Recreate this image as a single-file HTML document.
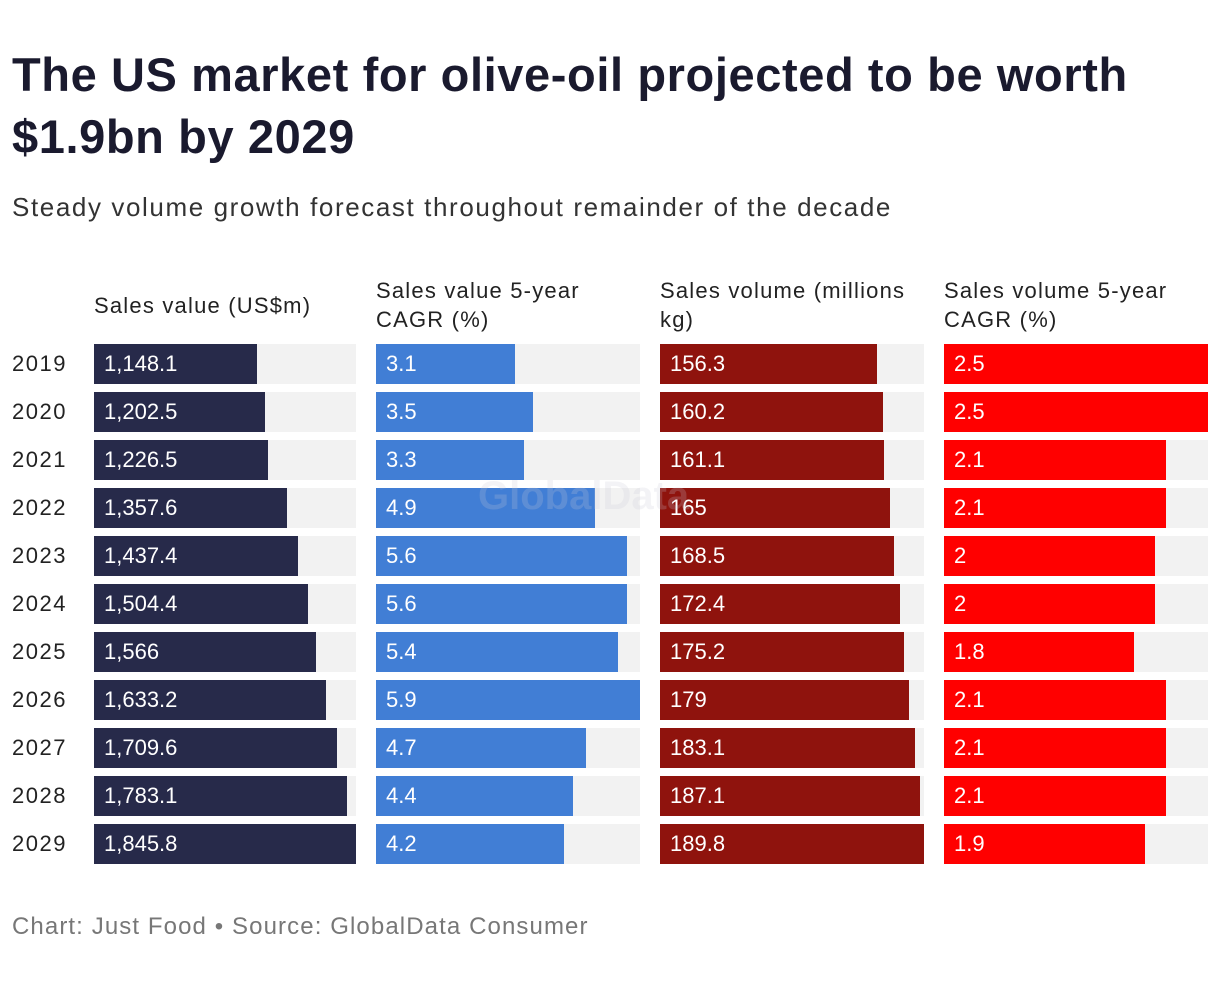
<!DOCTYPE html>
<html><head><meta charset="utf-8"><style>
body{margin:0;width:1220px;height:986px;background:#fff;font-family:"Liberation Sans",sans-serif;position:relative;overflow:hidden;color:#1a1a2e}
.abs{position:absolute}
h1{position:absolute;left:12px;top:44px;margin:0;font-size:47px;line-height:62px;font-weight:bold;color:#1a1a2e;letter-spacing:0.6px}
.sub{left:12px;top:192px;font-size:26px;color:#333;letter-spacing:1.6px}
.hdr{font-size:22px;line-height:29px;color:#222;letter-spacing:1.2px}
.yr{font-size:22px;color:#222;left:12px;letter-spacing:1.5px}
.trk{background:#f2f2f2;height:40px}
.bar{height:40px}
.val{color:#fff;font-size:22px;line-height:40px;padding-left:10px;white-space:nowrap}
.foot{left:12px;top:913px;font-size:24px;color:#777;letter-spacing:1.1px}
</style></head><body>
<h1>The US market for olive-oil projected to be worth<br>$1.9bn by 2029</h1>
<div class="abs sub">Steady volume growth forecast throughout remainder of the decade</div>
<div id="chart"></div>
<div class="abs" style="left:478px;top:474px;font-size:40px;font-weight:bold;color:rgba(200,200,215,0.22)">GlobalData</div>
<div class="abs foot">Chart: Just Food • Source: GlobalData Consumer</div>
<script>
const years=["2019","2020","2021","2022","2023","2024","2025","2026","2027","2028","2029"];
const salesValue=[1148.1,1202.5,1226.5,1357.6,1437.4,1504.4,1566,1633.2,1709.6,1783.1,1845.8];
const salesValueLabels=["1,148.1","1,202.5","1,226.5","1,357.6","1,437.4","1,504.4","1,566","1,633.2","1,709.6","1,783.1","1,845.8"];
const valueCagr=[3.1,3.5,3.3,4.9,5.6,5.6,5.4,5.9,4.7,4.4,4.2];
const salesVolume=[156.3,160.2,161.1,165,168.5,172.4,175.2,179,183.1,187.1,189.8];
const volumeCagr=[2.5,2.5,2.1,2.1,2,2,1.8,2.1,2.1,2.1,1.9];
const headers=["Sales value (US$m)","Sales value 5-year<br>CAGR (%)","Sales volume (millions<br>kg)","Sales volume 5-year<br>CAGR (%)"];
const cols=[
 {x:94,w:262,data:salesValue,labels:salesValueLabels,color:"#272a4a",name:"sales-value"},
 {x:376,w:264,data:valueCagr,labels:valueCagr.map(String),color:"#417ed5",name:"value-cagr"},
 {x:660,w:264,data:salesVolume,labels:salesVolume.map(String),color:"#8f130d",name:"sales-volume"},
 {x:944,w:264,data:volumeCagr,labels:volumeCagr.map(String),color:"#ff0000",name:"volume-cagr"}];
const root=document.getElementById('chart');
function mk(cls,style,html){const d=document.createElement('div');d.className='abs '+cls;d.style.cssText=style;if(html!=null)d.innerHTML=html;root.appendChild(d);return d;}
const rowY=i=>344+i*48;
cols.forEach((c,ci)=>{
 const multi=headers[ci].includes('<br>');
 const h=mk('hdr',`left:${c.x}px;top:${multi?276:291}px`,headers[ci]);
 
 
 const max=Math.max(...c.data);
 c.data.forEach((v,i)=>{
  const t=mk('trk',`left:${c.x}px;top:${rowY(i)}px;width:${c.w}px`);
  
  
  const b=mk('bar',`left:${c.x}px;top:${rowY(i)}px;width:${v/max*c.w}px;background:${c.color}`);
  
  
  const l=mk('val',`left:${c.x}px;top:${rowY(i)}px`,c.labels[i]);
  
  
 });
});
years.forEach((y,i)=>{
 const d=mk('yr',`top:${rowY(i)+7}px`,y);
 
 
});
</script>
</body></html>
